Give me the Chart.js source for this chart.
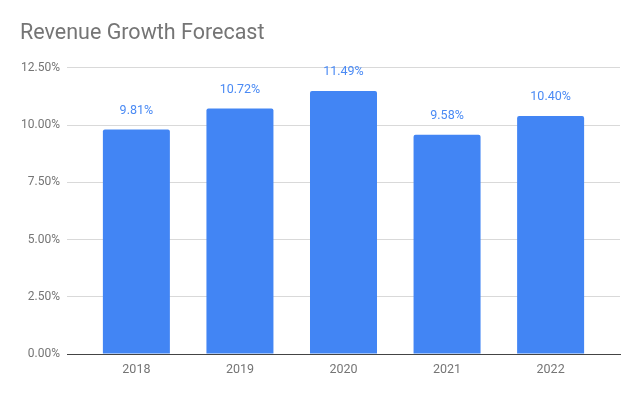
<!DOCTYPE html>
<html>
<head>
<meta charset="utf-8">
<script src="https://cdn.jsdelivr.net/npm/chart.js@4"></script>
<style>
  html, body { margin: 0; padding: 0; background: #fff; }
  #wrap { width: 640px; height: 396px; }
</style>
</head>
<body>
<div id="wrap"><canvas id="chart"></canvas></div>
<script>
const years = ['2018', '2019', '2020', '2021', '2022'];
const growth = [9.81, 10.72, 11.49, 9.58, 10.40];
const yTicks = [0, 2.5, 5, 7.5, 10, 12.5];

// value labels above each bar
const barLabels = {
    id: 'barLabels',
    afterDatasetsDraw(chart) {
        const ctx = chart.ctx;
        const meta = chart.getDatasetMeta(0);
        ctx.save();
        ctx.font = '12.5px Roboto';
        ctx.fillStyle = '#4a8af4';
        ctx.textAlign = 'center';
        ctx.textBaseline = 'alphabetic';
        meta.data.forEach((bar, i) => {
            ctx.fillText(growth[i].toFixed(2) + '%', bar.x, bar.y - 15.5);
        });
        ctx.restore();
    }
};

new Chart(document.getElementById('chart').getContext('2d'), {
    type: 'bar',
    data: {
        datasets: [{
            label: 'Revenue Growth',
            backgroundColor: '#4285f4',
            borderRadius: { topLeft: 2, topRight: 2 },
            borderSkipped: 'bottom',
            barPercentage: 0.647,
            categoryPercentage: 1,
            data: growth.map((v, i) => ({ x: i, y: v }))
        }]
    },
    options: {
        responsive: true,
        maintainAspectRatio: false,
        animation: false,
        layout: {
            padding: { left: 20, right: 20, top: 0, bottom: 0 }
        },
        plugins: {
            legend: { display: false },
            tooltip: { enabled: false },
            title: {
                display: true,
                text: 'Revenue Growth Forecast',
                align: 'start',
                color: '#757575',
                font: { family: 'Roboto', size: 21.5, weight: 'normal' },
                padding: { top: 21, bottom: 21 }
            }
        },
        scales: {
            x: {
                type: 'linear',
                offset: false,
                min: -0.67,
                max: 4.67,
                afterBuildTicks: s => { s.ticks = years.map((_, i) => ({ value: i })); },
                afterFit: s => { s.height = 42; },
                ticks: {
                    callback: v => years[v],
                    color: '#757575',
                    font: { family: 'Roboto', size: 12.5 },
                    padding: 8,
                    maxRotation: 0
                },
                grid: { display: false, drawTicks: false, offset: false },
                border: { display: true, color: '#444', width: 1 }
            },
            y: {
                min: 0,
                max: 12.5,
                afterBuildTicks: s => { s.ticks = yTicks.map(v => ({ value: v })); },
                afterFit: s => { s.width = 47; },
                ticks: {
                    callback: v => v.toFixed(2) + '%',
                    color: '#757575',
                    font: { family: 'Roboto', size: 12 },
                    padding: 7
                },
                grid: { color: '#d9d9d9', drawTicks: false },
                border: { display: false }
            }
        }
    },
    plugins: [barLabels]
});
</script>
</body>
</html>
